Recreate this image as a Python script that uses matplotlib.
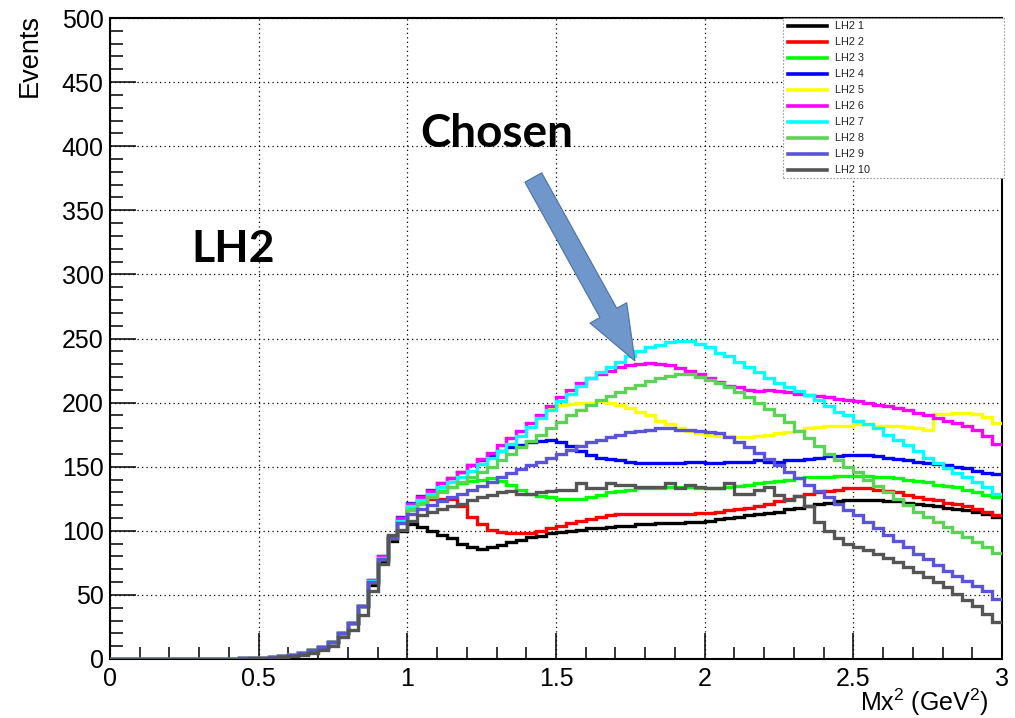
import numpy as np
import matplotlib
matplotlib.use("Agg")
import matplotlib.pyplot as plt
from matplotlib.ticker import MultipleLocator, FuncFormatter
from matplotlib.patches import Rectangle, Polygon
from matplotlib.lines import Line2D
from matplotlib.transforms import IdentityTransform

plt.rcParams["font.family"] = ["Liberation Sans", "DejaVu Sans"]
plt.rcParams["mathtext.fontset"] = "custom"
plt.rcParams["mathtext.rm"] = "Liberation Sans"
plt.rcParams["mathtext.it"] = "Liberation Sans:italic"

# ---------------- data ----------------
bin_edges = np.linspace(0.0, 3.0, 91)   # 90 bins, width 1/30

labels = ["LH2 1", "LH2 2", "LH2 3", "LH2 4", "LH2 5",
          "LH2 6", "LH2 7", "LH2 8", "LH2 9", "LH2 10"]
colors = ["#000000", "#ff0000", "#00ff00", "#0000ff", "#ffff00",
          "#ff00ff", "#00ffff", "#59d454", "#5954d9", "#555555"]

lh2_1 = [0, 0, 0, 0, 0, 0, 0, 0, 0, 0, 0, 0,
         0.3, 0.5, 0.8, 1, 1.5, 2.5, 3.5, 5, 7, 9.5, 13.5, 20, 28, 41,
         58, 76, 92, 100,
         105, 103, 100, 97, 94, 90, 87, 86, 87, 89, 91, 93, 95, 96, 98,
         99, 100, 101, 102, 102, 103, 104, 104, 105, 105, 106, 106, 106, 107, 107,
         108, 109, 110, 111, 112, 113, 114, 115, 117, 118, 119, 121, 122, 123, 124,
         124, 124, 124, 123, 123, 122, 121, 120, 119, 118, 117, 116, 115, 113, 111]

lh2_2 = [0, 0, 0, 0, 0, 0, 0, 0, 0, 0, 0, 0,
         0.3, 0.5, 0.8, 1, 1.5, 2.5, 3.5, 5, 7, 9.5, 13.5, 20, 28, 41,
         60, 78, 94, 107,
         118, 123, 125, 125, 125, 119, 111, 105, 101, 99, 98, 98, 98, 100, 102,
         104, 106, 108, 109, 111, 112, 113, 113, 113, 113, 113, 113, 113, 113, 114,
         114, 115, 116, 117, 118, 119, 121, 123, 125, 127, 129, 130, 131, 132, 133,
         133, 133, 132, 131, 130, 128, 126, 125, 124, 122, 121, 119, 117, 115, 112]

lh2_3 = [0, 0, 0, 0, 0, 0, 0, 0, 0, 0, 0, 0,
         0.3, 0.5, 0.8, 1, 1.5, 2.5, 3.5, 5, 7, 9.5, 13.5, 20, 28, 41,
         60, 78, 94, 108,
         117, 122, 127, 131, 134, 137, 139, 140, 141, 139, 136, 132, 129, 127, 126,
         125, 125, 125, 126, 128, 130, 131, 132, 133, 133, 133, 134, 134, 134, 133,
         133, 133, 134, 135, 136, 137, 138, 139, 140, 141, 142, 142, 142, 143, 143,
         143, 143, 142, 142, 141, 140, 139, 138, 136, 135, 134, 132, 130, 128, 126]

lh2_4 = [0, 0, 0, 0, 0, 0, 0, 0, 0, 0, 0, 0,
         0.3, 0.5, 0.8, 1, 1.5, 2.5, 3.5, 5, 7, 9.5, 13.5, 20, 28, 41,
         62, 80, 96, 111,
         122, 127, 132, 137, 141, 146, 151, 155, 159, 162, 165, 167, 169, 170, 171,
         169, 166, 162, 159, 157, 156, 155, 154, 153, 153, 153, 153, 153, 154, 154,
         153, 153, 154, 154, 154, 155, 154, 154, 155, 155, 156, 157, 158, 158, 159,
         159, 159, 158, 157, 156, 155, 154, 153, 152, 151, 150, 149, 147, 145, 144]

lh2_5 = [0, 0, 0, 0, 0, 0, 0, 0, 0, 0, 0, 0,
         0.3, 0.5, 0.8, 1, 1.5, 2.5, 3.5, 5, 7, 9.5, 13.5, 20, 28, 41,
         62, 80, 96, 110,
         121, 126, 131, 137, 141, 146, 151, 156, 161, 167, 172, 178, 184, 190, 196,
         198, 199, 200, 200, 201, 200, 198, 196, 193, 190, 186, 183, 180, 178, 176,
         175, 174, 174, 173, 173, 174, 175, 176, 177, 178, 180, 181, 182, 182, 182,
         183, 183, 182, 182, 182, 181, 180, 179, 191, 191, 192, 192, 191, 189, 184]

lh2_6 = [0, 0, 0, 0, 0, 0, 0, 0, 0, 0, 0, 0,
         0.3, 0.5, 0.8, 1, 1.5, 2.5, 3.5, 5, 7, 9.5, 13.5, 20, 28, 41,
         62, 80, 96, 110,
         121, 126, 131, 137, 141, 146, 151, 156, 161, 167, 172, 178, 184, 190, 197,
         204, 210, 215, 219, 222, 225, 228, 229, 230, 231, 230, 229, 227, 225, 222,
         219, 216, 213, 212, 210, 209, 210, 209, 208, 207, 206, 205, 204, 203, 202,
         201, 200, 198, 197, 196, 194, 192, 190, 188, 186, 184, 182, 179, 174, 168]

lh2_7 = [0, 0, 0, 0, 0, 0, 0, 0, 0, 0, 0, 0,
         0.3, 0.5, 0.8, 1, 1.5, 2.5, 3.5, 5, 7, 9.5, 13.5, 20, 28, 41,
         61, 79, 95, 108,
         119, 124, 129, 134, 138, 142, 147, 152, 157, 162, 168, 174, 181, 188, 194,
         201, 207, 213, 219, 224, 228, 232, 236, 240, 243, 245, 247, 248, 248, 246,
         243, 239, 236, 232, 228, 224, 219, 215, 212, 209, 206, 202, 197, 193, 190,
         186, 183, 180, 175, 171, 167, 162, 157, 153, 149, 145, 142, 138, 134, 129]

lh2_8 = [0, 0, 0, 0, 0, 0, 0, 0, 0, 0, 0, 0,
         0.3, 0.5, 0.8, 1, 1.5, 2.5, 3.5, 5, 7, 9.5, 13.5, 20, 28, 41,
         60, 78, 94, 106,
         116, 121, 126, 130, 134, 138, 142, 146, 150, 155, 160, 165, 170, 175, 180,
         185, 190, 194, 198, 202, 205, 208, 211, 214, 217, 219, 221, 222, 222, 220,
         218, 215, 212, 208, 204, 200, 195, 190, 185, 178, 172, 166, 160, 155, 150,
         146, 140, 135, 130, 125, 120, 115, 111, 107, 103, 99, 95, 91, 87, 83]

lh2_9 = [0, 0, 0, 0, 0, 0, 0, 0, 0, 0, 0, 0,
         0.3, 0.5, 0.8, 1, 1.5, 2.5, 3.5, 5, 7, 9.5, 13.5, 20, 28, 41,
         60, 78, 94, 106,
         113, 117, 120, 123, 126, 129, 132, 135, 138, 142, 145, 148, 151, 154, 157,
         160, 163, 166, 169, 171, 173, 175, 177, 178, 179, 180, 180, 179, 179, 178,
         177, 176, 173, 169, 165, 161, 156, 151, 146, 141, 136, 131, 126, 121, 116,
         112, 107, 102, 97, 92, 87, 82, 78, 73, 69, 65, 61, 57, 53, 47]

lh2_10 = [0, 0, 0, 0, 0, 0, 0, 0, 0, 0, 0, 0,
          0.2, 0.3, 0.5, 0.8, 1, 1.5, 2.5, 3.5, 5, 7, 10, 17, 23, 34,
          53, 74, 97, 101,
          108, 112, 115, 117, 119, 121, 124, 126, 128, 130, 131, 129, 129, 130, 131,
          132, 132, 137, 133, 133, 137, 136, 136, 134, 134, 134, 137, 133, 136, 134,
          133, 133, 137, 129, 129, 132, 134, 128, 124, 127, 119, 107, 100, 94, 90,
          87, 85, 82, 79, 76, 72, 68, 64, 60, 56, 51, 46, 41, 35, 29]

series = [lh2_1, lh2_2, lh2_3, lh2_4, lh2_5, lh2_6, lh2_7, lh2_8, lh2_9, lh2_10]

x_major = 0.5
y_major = 50

# ---------------- figure ----------------
W, H = 1015, 718
fig = plt.figure(figsize=(W / 100, H / 100), dpi=100)
ax_l, ax_r, ax_t, ax_b = 110, 1002, 18, 659
ax = fig.add_axes([ax_l / W, (H - ax_b) / H, (ax_r - ax_l) / W, (ax_b - ax_t) / H])

for vals, col in zip(series, colors):
    ax.stairs(vals, bin_edges, color=col, lw=2.4, baseline=None, zorder=3)

ax.set_xlim(0, 3)
ax.set_ylim(0, 500)
ax.xaxis.set_major_locator(MultipleLocator(x_major))
ax.xaxis.set_minor_locator(MultipleLocator(0.1))
ax.yaxis.set_major_locator(MultipleLocator(y_major))
ax.yaxis.set_minor_locator(MultipleLocator(10))
fmt = FuncFormatter(lambda v, p: "%g" % v)
ax.xaxis.set_major_formatter(fmt)
ax.yaxis.set_major_formatter(fmt)
ax.tick_params(which="both", direction="in", top=False, right=False,
               labelsize=18, width=1.1, colors="black")
ax.tick_params(axis="x", which="major", length=19, pad=6)
ax.tick_params(axis="x", which="minor", length=9)
ax.tick_params(axis="y", which="major", length=19, pad=4.5)
ax.tick_params(axis="y", which="minor", length=9)
ax.set_axisbelow(True)
ax.grid(True, which="major", color="black", lw=0.9, linestyle=(0, (1, 2.6)))
for s in ax.spines.values():
    s.set_linewidth(1.5)

def px2ax(px, py):
    return (px - ax_l) / (ax_r - ax_l), (ax_b - py) / (ax_b - ax_t)

# axis titles
ex, ey = px2ax(30, 14)
ax.text(ex, ey, "Events", rotation=90, ha="center", va="top",
        transform=ax.transAxes, fontsize=19.5)
mx, my = px2ax(989, 711)
ax.text(mx, my, r"Mx$^{2}$ (GeV$^{2}$)", ha="right", va="baseline",
        transform=ax.transAxes, fontsize=18)

# annotations
lx, ly = px2ax(191, 262)
ax.text(lx, ly, "LH2", transform=ax.transAxes, fontsize=32,
        fontweight="bold", family="Lato", ha="left", va="baseline", zorder=6)
cx, cy = px2ax(420, 147)
ax.text(cx, cy, "Chosen", transform=ax.transAxes, fontsize=33,
        fontweight="bold", family="Lato", ha="left", va="baseline", zorder=6)

# block arrow (pixel geometry)
T = np.array([533.3, 177.5])
P = np.array([635.0, 361.0])
u = (P - T) / np.linalg.norm(P - T)
n = np.array([u[1], -u[0]])
hw, hhw, hl = 9.6, 21.0, 55.0
B = P - u * hl
pts = [T + n * hw, B + n * hw, B + n * hhw, P, B - n * hhw, B - n * hw, T - n * hw]
pts = np.array([[p[0], H - p[1]] for p in pts])
fig.add_artist(Polygon(pts, closed=True, transform=IdentityTransform(),
                       facecolor="#7097cb", edgecolor="#4a70a3", lw=0.8, zorder=7))

# legend (drawn by hand, ROOT style)
lx0, ly1 = px2ax(783, 18)
lx1, ly0 = px2ax(1004, 178)
ax.add_patch(Rectangle((lx0, ly0), lx1 - lx0, ly1 - ly0, transform=ax.transAxes,
                       facecolor="white", edgecolor="#9a9a9a", lw=0.8,
                       linestyle=(0, (1.5, 1.5)), zorder=8, clip_on=False))
for i, (lab, col) in enumerate(zip(labels, colors)):
    py = 26 + i * 16.03
    a0, yy = px2ax(788, py)
    a1, _ = px2ax(827, py)
    ax.add_line(Line2D([a0, a1], [yy, yy], transform=ax.transAxes, color=col,
                       lw=2.6, zorder=9, clip_on=False))
    tx, _ = px2ax(835, py)
    ax.text(tx, yy, lab, transform=ax.transAxes, fontsize=7.8, color="#222222",
            ha="left", va="center", zorder=9)

fig.savefig("out.png", dpi=100)
